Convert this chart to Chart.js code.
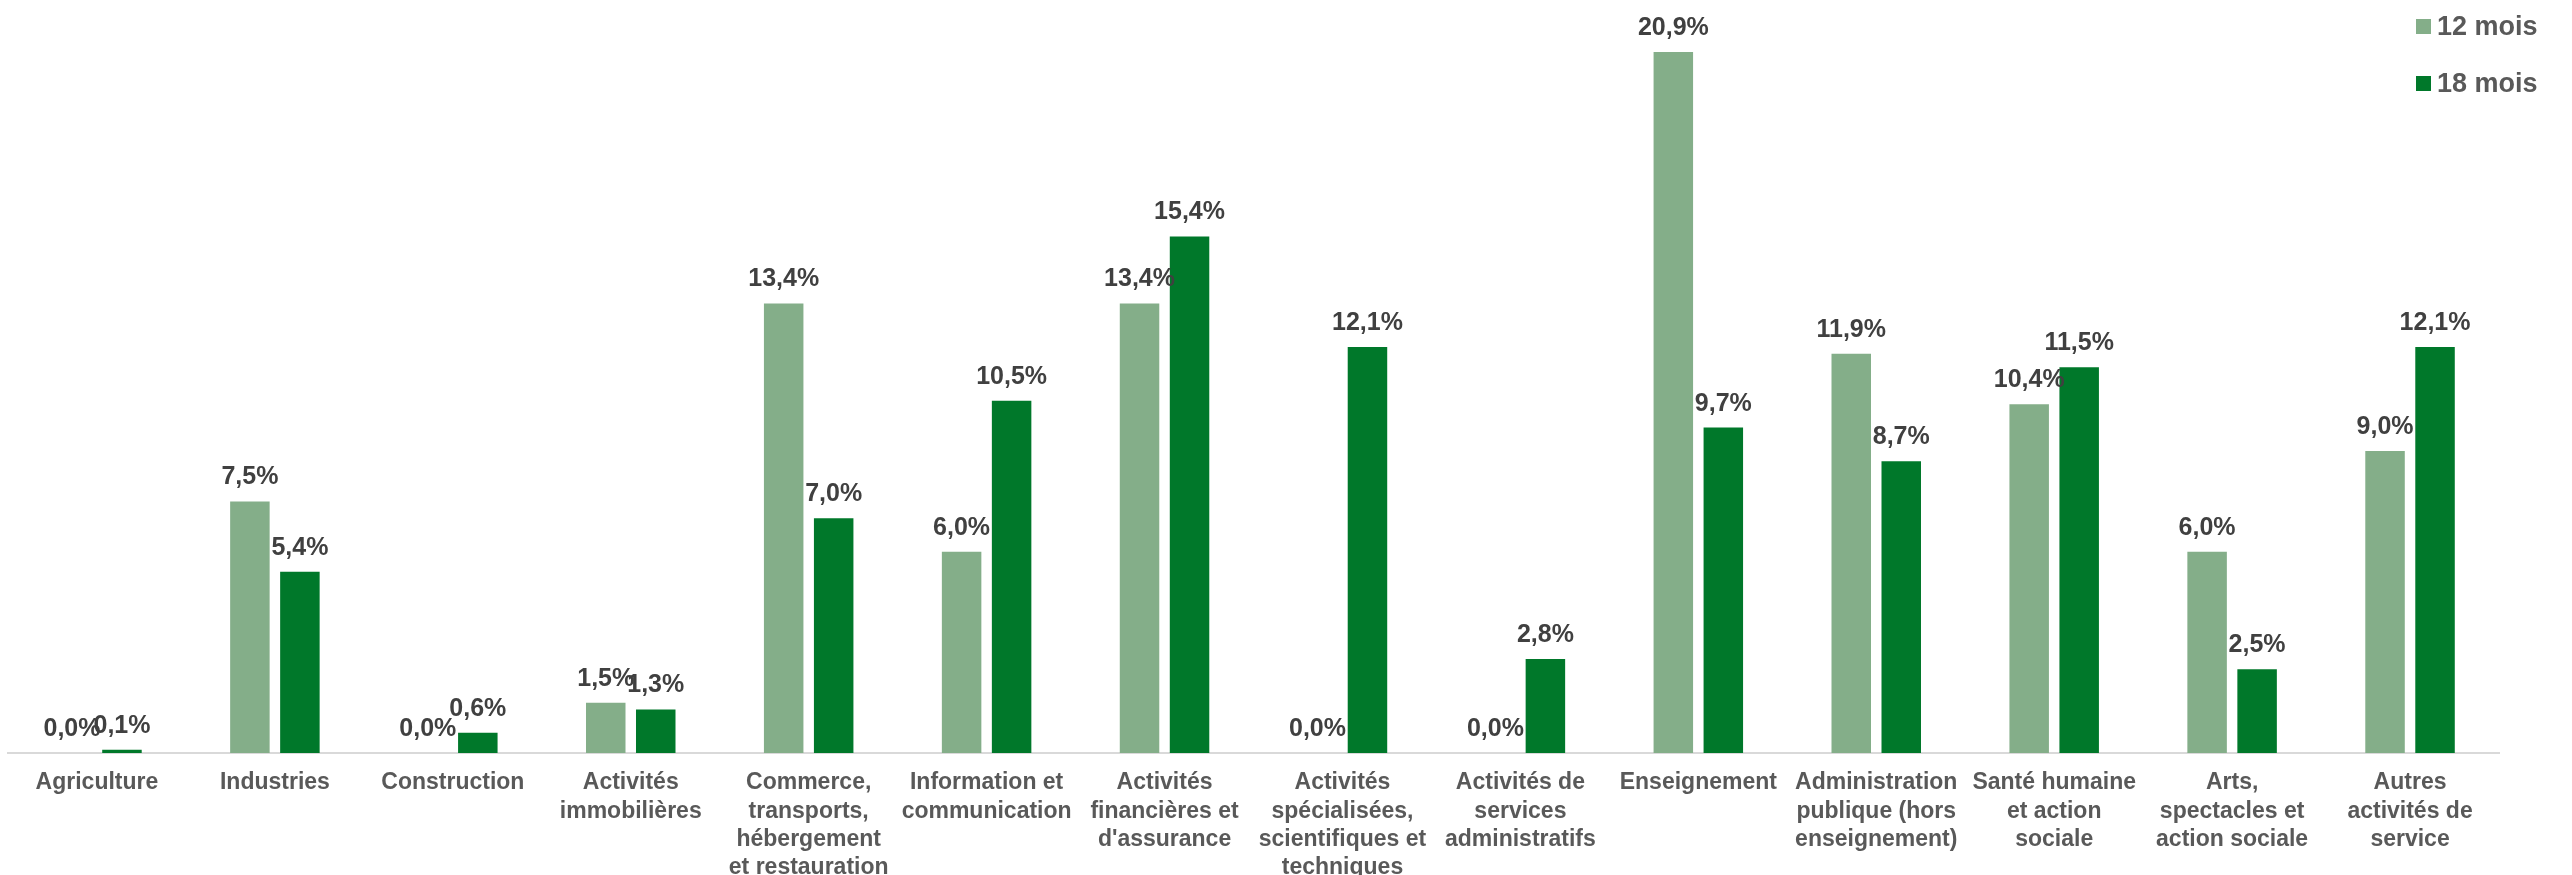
<!DOCTYPE html>
<html>
<head>
<meta charset="utf-8">
<script src="https://cdn.jsdelivr.net/npm/chart.js@4"></script>
<style>
    body { margin: 0; background: #fff; overflow: hidden; }
    #wrap { position: relative; width: 2572px; height: 875px; }
    #legend { position: absolute; left: 2416px; top: -2px; font-family: "Liberation Sans", Arial, sans-serif; font-weight: bold; font-size: 27px; color: #595959; }
    .item { display: flex; align-items: center; height: 57px; }
    .box { width: 15px; height: 15px; margin-right: 6px; }
</style>
</head>
<body>
<div id="wrap">
    <canvas id="chart"></canvas>
    <div id="legend"></div>
</div>
<script>
const categories = [
    'Agriculture',
    'Industries',
    'Construction',
    ['Activités', 'immobilières'],
    ['Commerce,', 'transports,', 'hébergement', 'et restauration'],
    ['Information et', 'communication'],
    ['Activités', 'financières et', "d'assurance"],
    ['Activités', 'spécialisées,', 'scientifiques et', 'techniques'],
    ['Activités de', 'services', 'administratifs'],
    'Enseignement',
    ['Administration', 'publique (hors', 'enseignement)'],
    ['Santé humaine', 'et action', 'sociale'],
    ['Arts,', 'spectacles et', 'action sociale'],
    ['Autres', 'activités de', 'service']
];
const seriesNames = ['12 mois', '18 mois'];
const values12 = [0.0, 7.5, 0.0, 1.5, 13.4, 6.0, 13.4, 0.0, 0.0, 20.9, 11.9, 10.4, 6.0, 9.0];
const values18 = [0.1, 5.4, 0.6, 1.3, 7.0, 10.5, 15.4, 12.1, 2.8, 9.7, 8.7, 11.5, 2.5, 12.1];
const colors = ['#84AE89', '#00782A'];

const FONT = '"Liberation Sans", Arial, sans-serif';

// draws the value above each bar
const valueLabels = {
    id: 'valueLabels',
    afterDatasetsDraw(chart) {
        const ctx = chart.ctx;
        ctx.save();
        ctx.font = 'bold 25px ' + FONT;
        ctx.fillStyle = '#404040';
        ctx.textAlign = 'center';
        ctx.textBaseline = 'alphabetic';
        chart.data.datasets.forEach((ds, i) => {
            chart.getDatasetMeta(i).data.forEach((bar, j) => {
                const txt = ds.data[j].toFixed(1).replace('.', ',') + '%';
                ctx.fillText(txt, bar.x, bar.y - 17);
            });
        });
        ctx.restore();
    }
};

const legend = document.getElementById('legend');
seriesNames.forEach((name, i) => {
    const item = document.createElement('div');
    item.className = 'item';
    item.innerHTML = `<span class="box" style="background:${colors[i]}"></span><span>${name}</span>`;
    legend.appendChild(item);
});

new Chart(document.getElementById('chart').getContext('2d'), {
    type: 'bar',
    data: {
        labels: categories,
        datasets: [
            { label: seriesNames[0], data: values12, backgroundColor: colors[0], categoryPercentage: 0.562, barPercentage: 0.79 },
            { label: seriesNames[1], data: values18, backgroundColor: colors[1], categoryPercentage: 0.562, barPercentage: 0.79 }
        ]
    },
    options: {
        responsive: true,
        maintainAspectRatio: false,
        animation: false,
        layout: { padding: { top: 15, left: 8, right: 73, bottom: 0 } },
        plugins: {
            legend: { display: false },
            tooltip: { enabled: false }
        },
        scales: {
            x: {
                grid: { display: false, drawTicks: false },
                border: { color: '#D9D9D9', width: 2 },
                ticks: {
                    autoSkip: false,
                    maxRotation: 0,
                    padding: 16,
                    color: '#595959',
                    font: { family: FONT, size: 23, weight: 'bold', lineHeight: 1.23 }
                },
                afterFit(scale) { scale.height = 122; }
            },
            y: {
                display: false,
                min: 0,
                max: 22
            }
        }
    },
    plugins: [valueLabels]
});
</script>
</body>
</html>
